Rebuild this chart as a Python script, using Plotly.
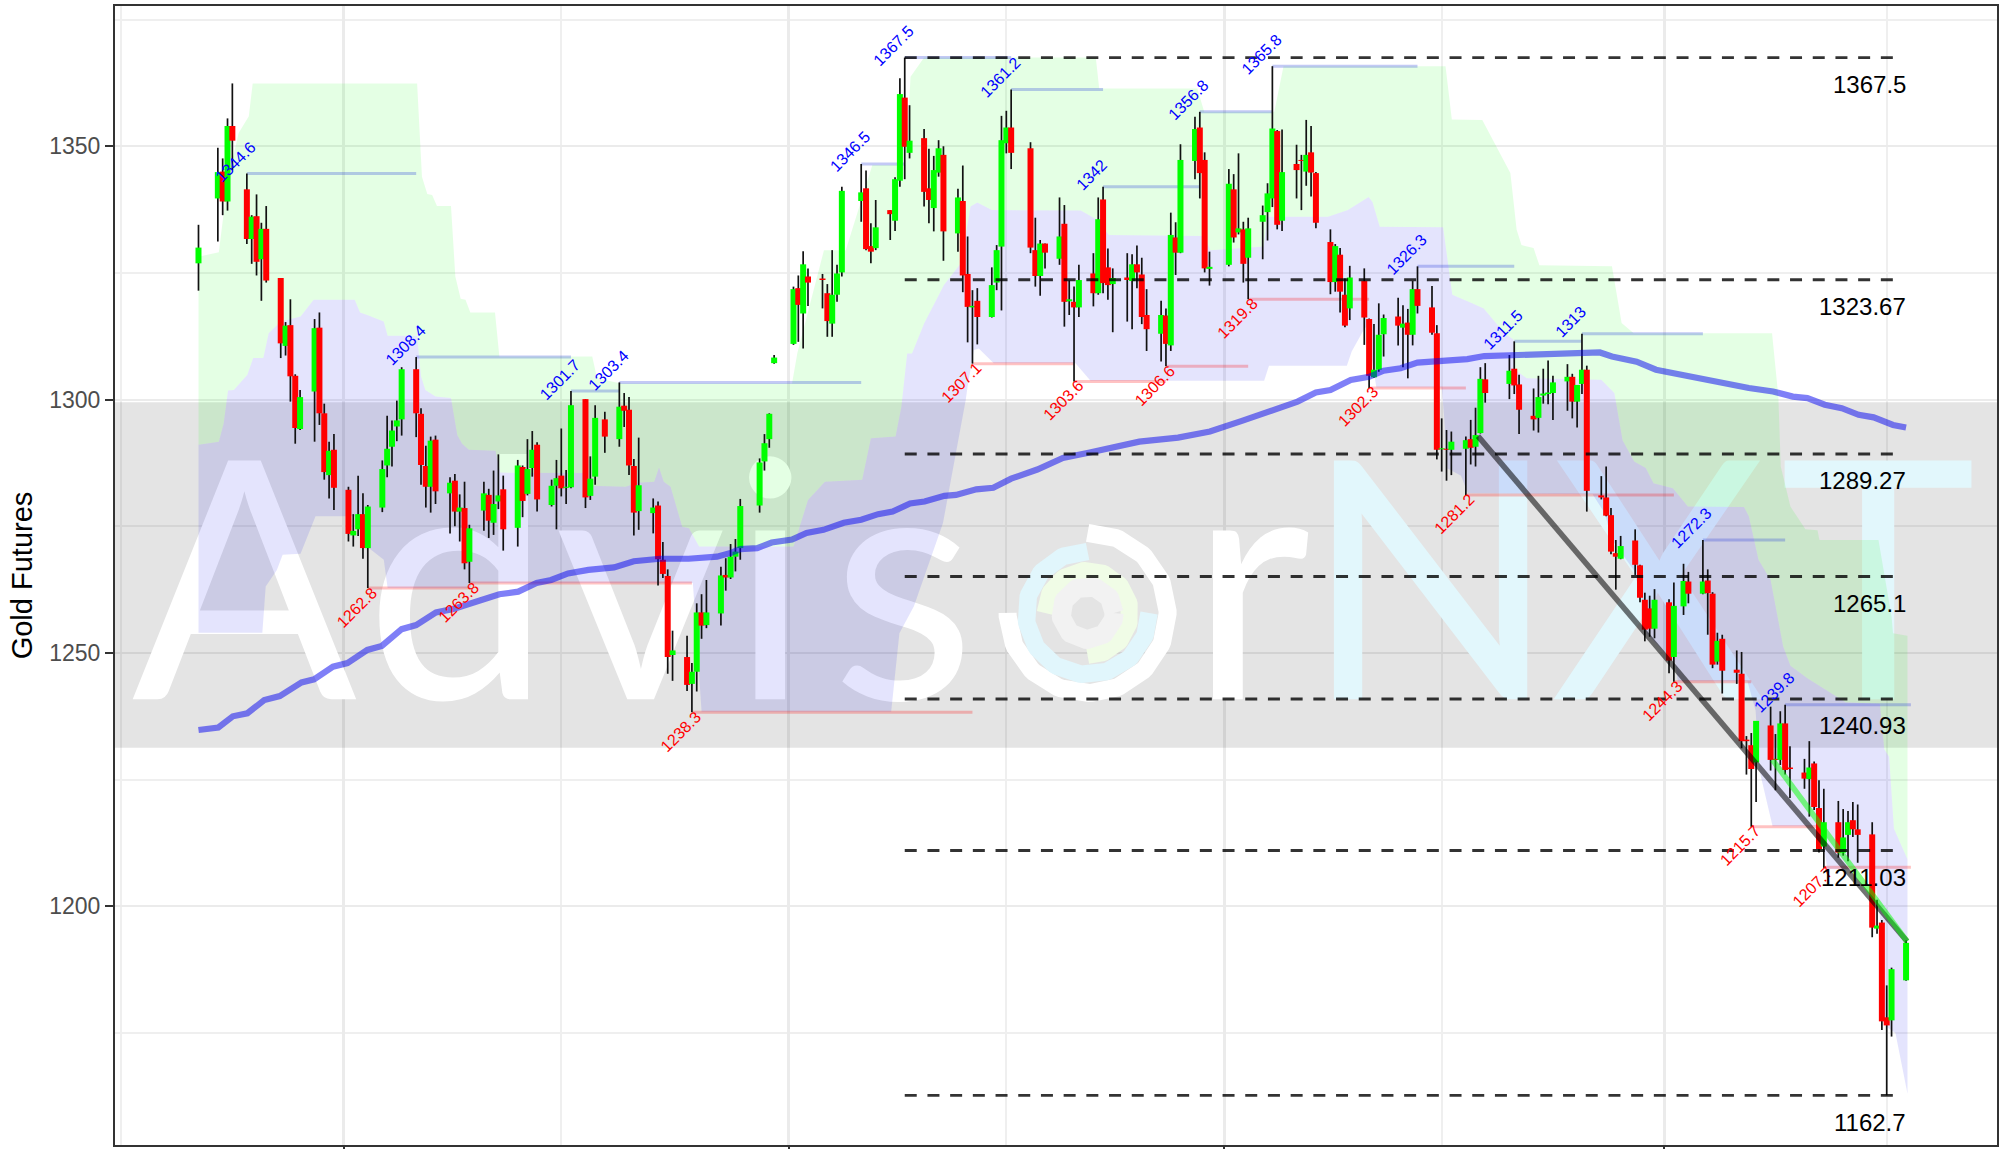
import numpy as np
import pandas as pd
import plotly.graph_objects as go

BASE = pd.Timestamp("2017-09-01")

days = [0,4,5,6,7,10,11,12,13,14,
17,18,19,20,21,24,25,26,27,28,
31,32,33,34,35,38,39,40,41,42,
45,46,47,48,49,52,53,54,55,56,
59,60,61,62,63,66,67,68,69,70,
73,74,75,76,77,80,81,82,84,87,
88,89,90,91,94,95,96,97,98,101,
102,103,104,105,108,109,110,111,112,116,
117,118,119,123,124,125,126,129,130,131,
132,133,137,138,139,140,143,144,145,146,
147,150,151,152,153,154,157,158,159,160,
161,164,165,166,167,168,172,173,174,175,
178,179,180,181,182,185,186,187,188,189,
192,193,194,195,196,199,200,201,202,203,
206,207,208,209,213,214,215,216,217,220,
221,222,223,224,227,228,229,230,231,234,
235,236,237,238,241,242,243,244,245,248,
249,250,251,252,255,256,257,258,259,262,
263,264,265,266,271,272,273,276,277,278,
279,280,283,284,285,286,287,290,291,292,
293,294,297,298,299,300,301,304,305,307,
308,311,312,313,314,315,318,319,320,321,
322,325,326,327,328,329,332,333,334,335,
336,339,340,341,342,343,346,347,348,349,
350,353]

opens = [1326.9,1339.7,1345.0,1339.1,1354.0,1341.5,1331.7,1336.2,1327.7,1333.7,
1324.0,1310.6,1314.7,1304.7,1294.2,1301.6,1314.2,1297.3,1285.1,1290.1,
1282.2,1273.2,1274.4,1277.4,1270.7,1278.7,1287.0,1290.7,1294.7,1296.1,
1306.0,1297.2,1286.9,1282.8,1292.1,1281.5,1284.0,1277.9,1278.6,1268.0,
1278.1,1281.2,1275.7,1279.9,1282.3,1274.7,1286.7,1281.4,1286.5,1291.1,
1279.2,1283.0,1285.0,1282.6,1282.7,1300.1,1281.0,1284.8,1296.1,1292.2,
1298.8,1298.0,1286.9,1278.0,1277.6,1279.1,1268.4,1265.2,1249.6,1249.2,
1243.9,1246.3,1258.0,1255.5,1257.8,1265.4,1264.9,1269.0,1270.7,1279.1,
1287.8,1292.2,1307.2,1311.0,1322.0,1317.0,1324.3,1323.9,1321.0,1315.0,
1320.7,1325.1,1339.2,1341.7,1330.3,1329.9,1337.4,1335.3,1343.2,1359.6,
1348.7,1351.6,1341.7,1337.8,1344.8,1348.3,1332.8,1339.2,1324.8,1318.2,
1319.5,1316.3,1323.1,1330.2,1350.6,1353.7,1349.6,1329.5,1324.4,1330.8,
1327.8,1334.7,1319.4,1319.3,1318.2,1324.9,1321.0,1339.5,1326.1,1322.8,
1324.1,1323.4,1326.7,1324.7,1316.7,1313.0,1316.6,1310.7,1332.0,1329.0,
1347.1,1353.7,1347.3,1325.8,1326.6,1341.5,1333.0,1333.6,1328.0,1335.1,
1337.0,1339.7,1353.0,1335.3,1346.5,1347.3,1345.0,1348.8,1344.7,1331.1,
1323.2,1328.6,1320.7,1318.0,1323.4,1315.9,1304.4,1305.9,1312.9,1316.4,
1314.2,1315.2,1312.8,1321.8,1318.2,1313.1,1290.2,1290.3,1290.1,1290.3,
1292.2,1290.7,1293.4,1304.0,1303.1,1306.1,1303.0,1296.8,1296.4,1300.8,
1301.1,1301.3,1303.6,1304.5,1299.6,1303.1,1305.9,1281.1,1280.7,1277.2,
1269.7,1268.6,1272.2,1267.3,1260.5,1258.8,1254.8,1260.0,1249.2,1259.2,
1264.1,1261.7,1264.3,1261.7,1248.3,1252.8,1246.7,1245.9,1232.9,1231.8,
1228.4,1235.7,1229.1,1228.9,1236.1,1227.4,1226.4,1225.1,1228.2,1219.4,
1211.8,1216.6,1210.6,1214.1,1217.0,1215.2,1214.2,1195.6,1196.8,1178.1,
1177.5,1185.4]

closes = [1330.0,1344.9,1339.1,1354.0,1351.1,1331.7,1336.1,1327.2,1333.7,1323.5,
1311.1,1314.6,1304.6,1294.4,1300.5,1314.1,1297.3,1285.7,1289.9,1282.6,
1273.5,1274.1,1277.4,1270.7,1278.9,1286.3,1290.3,1293.9,1295.9,1306.0,
1297.3,1287.1,1282.8,1291.9,1281.9,1283.6,1277.9,1278.7,1267.7,1274.6,
1281.5,1276.1,1279.4,1281.1,1274.4,1287.0,1280.0,1286.3,1290.1,1280.3,
1283.0,1284.5,1282.5,1282.8,1298.9,1280.7,1284.4,1296.4,1292.7,1298.6,
1297.8,1287.0,1277.7,1283.1,1278.7,1268.5,1265.6,1249.2,1250.5,1243.7,
1246.3,1258.0,1255.4,1258.0,1265.3,1264.9,1269.0,1270.0,1279.0,1287.6,
1291.4,1297.2,1308.3,1321.8,1318.7,1326.7,1323.1,1323.6,1315.5,1320.7,
1324.9,1341.2,1340.9,1329.7,1329.2,1334.0,1336.6,1343.5,1360.3,1349.9,
1351.1,1341.0,1339.4,1345.3,1349.6,1333.2,1339.9,1324.5,1318.3,1318.5,
1316.3,1322.6,1329.5,1351.2,1353.7,1348.7,1330.0,1324.4,1330.8,1329.0,
1332.2,1319.3,1319.8,1318.2,1323.6,1321.0,1335.6,1323.0,1322.6,1324.0,
1323.6,1326.7,1325.1,1316.3,1313.9,1316.7,1311.0,1332.5,1329.0,1347.3,
1353.4,1344.7,1325.9,1326.2,1342.6,1332.0,1333.8,1326.8,1333.8,1336.4,
1340.7,1353.5,1334.5,1344.9,1345.3,1347.1,1348.3,1344.8,1334.9,1323.2,
1330.3,1321.3,1314.6,1324.1,1316.2,1304.7,1305.9,1312.8,1316.1,1314.6,
1315.0,1312.8,1321.8,1318.5,1313.2,1290.1,1290.4,1290.1,1291.7,1292.0,
1290.5,1293.0,1304.1,1301.3,1305.7,1302.8,1298.0,1296.1,1300.5,1301.2,
1301.4,1303.4,1304.5,1299.6,1302.9,1305.9,1282.0,1280.7,1277.1,1270.0,
1269.0,1271.1,1267.4,1260.9,1254.6,1254.8,1260.5,1248.5,1259.3,1264.2,
1261.7,1264.1,1261.8,1247.7,1252.4,1246.5,1246.1,1232.6,1232.6,1227.1,
1236.6,1228.9,1228.9,1236.1,1226.9,1227.1,1225.2,1227.4,1219.6,1211.3,
1216.6,1210.6,1213.6,1216.6,1215.2,1214.1,1195.8,1196.2,1177.3,1176.5,
1187.6,1192.8]

highs = [1334.5,1349.7,1347.6,1355.5,1362.4,1344.6,1336.4,1340.5,1334.9,1338.2,
1324.0,1315.3,1319.8,1305.0,1301.9,1315.9,1317.2,1299.2,1291.7,1293.2,
1282.8,1277.4,1285.0,1281.5,1279.2,1288.0,1296.8,1295.9,1299.8,1306.4,
1308.4,1298.3,1290.9,1292.7,1292.9,1284.7,1285.3,1281.3,1283.8,1275.3,
1283.8,1282.4,1286.0,1289.2,1285.0,1288.1,1287.0,1292.2,1293.8,1291.6,
1284.2,1288.1,1294.3,1286.1,1301.7,1300.1,1288.8,1298.9,1297.6,1303.4,
1301.3,1300.5,1288.3,1292.5,1280.5,1279.9,1271.9,1266.5,1254.4,1253.4,
1248.0,1259.8,1261.6,1264.4,1267.0,1268.7,1271.5,1272.5,1280.4,1288.4,
1293.2,1297.3,1308.8,1322.3,1324.5,1329.3,1325.9,1324.8,1322.8,1329.5,
1326.6,1342.0,1346.5,1345.2,1334.8,1339.4,1337.4,1343.9,1363.4,1367.5,
1358.1,1353.4,1349.5,1348.1,1351.2,1350.0,1341.6,1346.2,1332.2,1321.6,
1322.0,1326.1,1330.5,1356.0,1357.0,1361.2,1350.8,1335.9,1331.5,1330.8,
1339.9,1338.4,1323.5,1322.3,1326.6,1328.9,1339.9,1342.0,1329.8,1325.9,
1328.9,1328.7,1330.4,1328.0,1321.8,1319.5,1318.0,1336.9,1335.0,1350.4,
1355.8,1356.8,1348.8,1329.2,1345.5,1344.5,1348.6,1335.1,1335.9,1338.3,
1342.7,1365.8,1353.2,1353.3,1350.3,1348.3,1355.2,1354.0,1344.9,1333.6,
1330.7,1329.9,1323.9,1326.4,1325.9,1316.0,1314.9,1319.0,1316.8,1320.1,
1318.6,1317.9,1323.4,1326.3,1322.4,1314.7,1296.3,1294.0,1293.7,1292.7,
1296.0,1298.4,1306.4,1307.2,1308.8,1311.5,1304.9,1302.2,1304.7,1306.1,
1307.7,1304.7,1307.0,1305.1,1302.9,1313.0,1306.7,1284.9,1286.8,1278.6,
1272.3,1273.1,1274.4,1267.4,1261.9,1261.3,1262.6,1260.6,1263.9,1267.6,
1266.0,1272.3,1266.5,1262.0,1254.0,1253.6,1250.5,1250.2,1233.6,1234.2,
1236.6,1239.4,1234.0,1238.5,1239.8,1231.6,1229.1,1232.6,1228.6,1224.9,
1223.2,1220.8,1219.2,1218.8,1220.6,1220.1,1216.6,1201.3,1197.3,1184.4,
1187.9,1193.3]

lows = [1321.5,1331.2,1336.4,1337.3,1345.3,1330.7,1326.8,1324.5,1319.5,1323.1,
1308.2,1308.7,1299.6,1291.3,1294.0,1291.7,1295.0,1284.2,1280.5,1278.2,
1272.0,1271.0,1273.1,1268.6,1262.8,1277.8,1284.7,1286.8,1291.8,1292.9,
1292.6,1283.2,1278.7,1277.7,1279.4,1273.6,1275.0,1272.0,1266.5,1263.8,
1274.1,1272.7,1273.3,1278.4,1270.2,1271.0,1276.8,1281.1,1284.8,1277.9,
1278.9,1274.4,1280.9,1279.4,1282.5,1278.6,1280.2,1283.2,1289.5,1290.7,
1294.6,1285.1,1273.2,1274.3,1273.6,1263.3,1264.8,1245.9,1244.5,1242.5,
1238.3,1242.4,1252.8,1254.9,1255.4,1262.3,1264.6,1266.1,1268.4,1277.7,
1286.0,1290.5,1307.1,1310.8,1311.4,1310.1,1318.5,1318.0,1312.4,1312.4,
1319.3,1324.3,1335.1,1329.5,1326.9,1329.5,1331.5,1333.3,1342.0,1343.5,
1347.6,1338.1,1334.8,1333.2,1344.0,1327.4,1329.2,1321.2,1311.3,1307.1,
1310.9,1316.2,1321.6,1317.6,1348.6,1345.5,1328.9,1322.3,1320.5,1325.9,
1326.6,1314.4,1316.7,1303.6,1316.3,1318.4,1320.7,1321.0,1319.7,1313.3,
1315.4,1313.9,1322.0,1314.9,1309.6,1307.5,1306.6,1309.6,1324.6,1328.9,
1343.5,1339.7,1325.1,1322.5,1326.3,1331.0,1332.6,1323.1,1319.8,1327.7,
1331.4,1338.0,1333.6,1333.3,1339.7,1337.4,1342.2,1340.1,1333.8,1320.8,
1321.3,1317.2,1314.3,1315.7,1310.8,1302.3,1304.3,1305.5,1308.5,1310.7,
1306.4,1304.2,1310.7,1317.0,1312.8,1288.2,1285.8,1284.0,1285.1,1281.2,
1287.2,1286.8,1293.3,1299.4,1300.1,1301.1,1293.2,1293.9,1293.5,1299.2,
1299.1,1296.0,1297.8,1296.3,1294.5,1301.1,1277.9,1280.3,1277.0,1269.5,
1262.5,1268.5,1265.4,1260.0,1252.3,1253.2,1252.9,1246.0,1244.3,1257.5,
1259.8,1261.6,1253.6,1247.0,1247.7,1242.0,1243.9,1231.2,1226.0,1215.7,
1220.6,1226.8,1222.9,1227.9,1226.0,1221.4,1223.2,1217.7,1219.0,1210.6,
1207.6,1209.6,1210.0,1208.9,1213.7,1208.6,1193.9,1194.6,1175.6,1162.7,
1174.3,1185.3]

# ribbon boundaries
upper_days = [0,4.2,5.2,5.9,8.3,10.4,11.2,45.2,46.2,47.3,48.3,49.3,52.2,53.1,54.2,55.2,56.2,61.3,62.2,81.4,82.4,87.3,
122.7,123.8,129.3,133.8,139.3,146.2,147.2,150,185.5,186.2,206.5,207.9,222.4,224.3,257.8,259.1,265.4,271.2,272.5,273.5,
276,277.2,292.2,294.2,296.7,325.3,326.6,327.1,329.1,332.2,334.7,335.1,347.3,350,350.3,353.3]
upper_vals = [1328.2,1329.1,1336.8,1342.7,1352.6,1355.9,1362.4,1362.4,1344,1340.6,1340.4,1338.2,1338.2,1324.3,1319.9,1319.7,1317.2,1317.2,1308.5,1308.5,1304.2,1303.2,
1303.2,1309.2,1329.5,1329.5,1346.3,1346.3,1363.7,1367.5,1367.5,1361.4,1361.4,1356.8,1356.8,1365.8,1365.8,1355.3,1355.2,1344.7,1333.5,1330.5,
1329.9,1326.5,1326.3,1315.1,1313.1,1313.1,1300.6,1286.8,1278.9,1274.4,1274.2,1272.3,1272.3,1257.2,1253.9,1253.4]

mid_days = [0,4.2,5.2,6.1,7.3,10.1,11.3,13.4,14.5,17,21.1,23.8,32.3,33.4,34.9,38.3,39.1,45.2,46,46.9,49,52.2,53.5,54.5,55.9,61.4,62.4,79.9,81,88.3,90.7,94.2,95.2,96.2,97.6,100,101.4,103.5,
122.1,123,126,129.5,137.2,139,144.1,145.3,146.5,147.5,150,154.1,157.6,159.6,161,164,182.4,185.8,188.2,207.9,209.2,220.2,221,233.5,237.6,241.9,242.7,244.2,257.3,259.2,263.3,265.7,270,271.9,272.2,274.6,290,
292.7,294.4,296.8,299.2,300.8,304.8,307.9,319.5,320.5,322.5,325,327.6,329.1,332.6,340.5,347.6,348.5,349.5,350.5,353.3]
mid_vals = [1291.1,1291.7,1295.3,1301.8,1301.9,1304.9,1308.2,1308.2,1313.1,1315.4,1316.4,1319.7,1319.7,1317.2,1316.7,1315.4,1312.6,1312.6,1304.6,1301.9,1300.6,1300.3,1293,1291.3,1290.1,1289.9,1285.6,1285.5,1283,1282.8,1283.6,1283.8,1286.6,1283.8,1282.8,1274.9,1274.6,1271,
1271,1271,1280.2,1283.8,1284.2,1292.4,1292.7,1298.6,1309.1,1309.1,1315,1322.6,1326.9,1338.1,1338.9,1337.4,1337.3,1335.5,1332.5,1332.3,1329.5,1330.2,1336.1,1336.1,1337.4,1340,1339,1334.1,1334,1320.7,1319,1318,1313.1,1311.8,1305.9,1304.2,1303.9,
1301.3,1292,1287.8,1286.5,1283.5,1282.5,1278.9,1278.8,1277,1268.4,1264.4,1251.3,1247.5,1245,1240.3,1240,1231,1229.5,1215.3,1209.3]

lower_days = [0,13.2,13.9,16.2,17.4,21.1,24.2,32.5,35.2,38.3,39.1,56.2,56.5,102.2,104,143.2,144.9,147.9,153.9,158.6,159,160.3,161.3,164.4,181.3,184.4,220.3,221.3,237.4,238.4,240.9,241.5,243.5,
257,257.5,258.2,261,262.4,288.2,290.7,292.2,296.7,298.8,299.3,305.3,305.8,320.2,321.9,322.6,325.4,335.5,336.7,346.3,347.6,348.5,349.3,350.8,353.3]
lower_vals = [1254,1254,1263.1,1266.4,1269.4,1269.6,1277,1277,1270.7,1268.4,1262.8,1262.8,1263.8,1263.8,1238.4,1238.4,1253.9,1259.2,1275.6,1299.9,1302.6,1309.8,1310.1,1307.2,1307.2,1303.7,1303.7,1306.7,1306.7,1309.5,1313.8,1314.5,1302.4,
1302.4,1296.7,1286.4,1285,1281.5,1281.3,1277.6,1272.3,1266.4,1259.2,1253.9,1248,1244.4,1244.4,1238.6,1227.2,1215.8,1215.8,1207.3,1207.3,1198,1177.3,1176,1175,1163]

# moving average
ma_days = [0,4.1,7.1,10.1,13.6,16.8,21.3,23.9,27.8,30.8,34.9,37.9,42,45,49.1,52.7,58,62.2,66.1,69.9,72.9,76.4,80.6,85.9,90,95.4,101.3,107.2,110.2,112,115.5,118.5,122.7,125.7,129.2,133.4,137,140.5,143.5,147.1,150.1,154.2,156.6,160.8,164.3,168,173.4,178.7,184,189.3,194.5,202.5,209.1,215.7,223,227.2,231,234,238.2,242,245,248.5,252,256,262.3,265.8,271.3,289.7,292.2,297.3,301.3,306.4,311.4,315.4,320.5,325.5,329.6,332.6,336.2,339.7,343.2,346.3,350.3,353]
ma_vals = [1234.8,1235.3,1237.5,1238.1,1240.7,1241.5,1244.2,1244.8,1247.3,1248,1250.6,1251.4,1254.7,1255.5,1258,1258.7,1260.3,1261.6,1262.1,1263.8,1264.4,1265.7,1266.4,1266.9,1268.1,1268.6,1268.6,1269,1269.8,1270.5,1270.7,1271.8,1272.4,1273.7,1274.3,1275.7,1276.3,1277.4,1277.9,1279.5,1279.9,1281,1281.2,1282.3,1282.6,1284.4,1286.2,1288.5,1289.5,1290.7,1291.7,1292.5,1293.7,1295.8,1298.3,1299.6,1301.4,1301.9,1303.9,1304.5,1305.7,1306.2,1307.3,1307.5,1308,1308.6,1308.8,1309.3,1308.5,1307.5,1305.9,1304.9,1304.2,1303.2,1302.3,1301.6,1300.6,1300.3,1299,1298.3,1297,1296.5,1295,1294.5]

# pivot highs / lows
pivot_high_days = [10,45,77,87,137,146,168,187,207,222,252,272,286,311,328]
pivot_high_vals = [1344.6,1308.4,1301.7,1303.4,1346.5,1367.5,1361.2,1342,1356.8,1365.8,1326.3,1311.5,1313,1272.3,1239.8]
pivot_low_days = [35,56,102,160,181,200,217,242,262,305,321,336]
pivot_low_vals = [1262.8,1263.8,1238.3,1307.1,1303.6,1306.6,1319.8,1302.3,1281.2,1244.3,1215.7,1207.7]
pivot_end_day = 354

# retracement levels
level_vals = [1367.5,1323.67,1289.27,1265.1,1240.93,1211.03,1162.7]
level_start, level_end, level_label_day = 146, 351.5, 353.3

# trend lines
grey_trend_days, grey_trend_vals = [264.5,353.2], [1292.8,1193.1]
green_trend_days, green_trend_vals = [325.4,353.2], [1228.9,1193.1]

# watermark band and letters
band_vals = [1299.5,1231.3]
wm_letters = ["A","d","v","i","s","r","N","X","T"]
wm_days = [9.5,53.7,91.4,118.2,145.7,217.4,254.7,301.8,347.2]
wm_colors = ["white"]*6 + ["#e2f7fc"]*3
wm_y = 1257.3

x_lo, x_hi = -17.26, 371.8
y_lo, y_hi = 1152.9, 1377.68
major_dates = ["2017-10-01","2018-01-01","2018-04-01","2018-07-01"]
minor_dates = ["2017-08-16","2017-11-15","2018-02-15","2018-05-16","2018-08-16"]


def dt(ds):
    return [(BASE + pd.Timedelta(days=float(d))).isoformat() for d in ds]


fig = go.Figure()
FONT = "Liberation Sans, Helvetica, Arial, sans-serif"

# grey band
fig.add_trace(go.Scatter(x=dt([x_lo, x_hi, x_hi, x_lo]),
                         y=[band_vals[0], band_vals[0], band_vals[1], band_vals[1]],
                         fill="toself", fillcolor="rgba(0,0,0,0.105)", mode="lines",
                         line=dict(width=0), hoverinfo="skip"))

# watermark letters
for ch, d, col in zip(wm_letters, wm_days, wm_colors):
    fig.add_trace(go.Scatter(x=dt([d]), y=[wm_y], mode="text", text=[ch],
                             textposition="middle center", hoverinfo="skip",
                             textfont=dict(family="Lato", size=333, color=col)))

# watermark target rings
ring_c_day, ring_c_val = 183.8, 1257.9
rings = [(80, 90, -180, "white", 18), (61.5, 90, 360, "#e1f6fc", 17.5),
         (42.5, 180, -90, "#f0fce6", 17), (26.5, 0, 360, "#f2f2f2", 19)]
for r, a0, a1, col, w in rings:
    t = np.radians(np.linspace(a0, a1, 120))
    fig.add_trace(go.Scatter(x=dt(ring_c_day + r / 4.838 * np.cos(t)),
                             y=ring_c_val + r / 5.068 * np.sin(t), mode="lines",
                             line=dict(color=col, width=w), hoverinfo="skip"))

# ribbons
fig.add_trace(go.Scatter(x=dt(upper_days + mid_days[::-1]), y=upper_vals + mid_vals[::-1],
                         fill="toself", fillcolor="rgba(0,255,0,0.105)", mode="lines",
                         line=dict(width=0), hoverinfo="skip"))
fig.add_trace(go.Scatter(x=dt(mid_days + lower_days[::-1]), y=mid_vals + lower_vals[::-1],
                         fill="toself", fillcolor="rgba(0,0,235,0.105)", mode="lines",
                         line=dict(width=0), hoverinfo="skip"))

# pivot level segments
def seg_xy(ds, vs):
    ends = ds[1:] + [pivot_end_day]
    xs, ys = [], []
    for a, b, v in zip(ds, ends, vs):
        xs += dt([a, b]) + [None]
        ys += [v, v, None]
    return xs, ys

hx, hy = seg_xy(pivot_high_days, pivot_high_vals)
lx, ly = seg_xy(pivot_low_days, pivot_low_vals)
fig.add_trace(go.Scatter(x=hx, y=hy, mode="lines", line=dict(color="rgba(40,60,220,0.28)", width=3), hoverinfo="skip"))
fig.add_trace(go.Scatter(x=lx, y=ly, mode="lines", line=dict(color="rgba(255,0,0,0.24)", width=3), hoverinfo="skip"))

# wicks
wx, wy = [], []
for d, h, l in zip(days, highs, lows):
    wx += dt([d, d]) + [None]
    wy += [l, h, None]
fig.add_trace(go.Scatter(x=wx, y=wy, mode="lines", line=dict(color="#111111", width=1.7), hoverinfo="skip"))

# candle bodies, in runs of one colour so that later candles sit on earlier ones
run_x, run_y, run_col = [], [], None
def flush():
    if run_x:
        fig.add_trace(go.Scatter(x=list(run_x), y=list(run_y), mode="lines", hoverinfo="skip",
                                 line=dict(color=run_col, width=6)))
for d, o, c in zip(days, opens, closes):
    col = "#00ff00" if c >= o else "#ff0000"
    if col != run_col:
        flush()
        run_x, run_y, run_col = [], [], col
    run_x += dt([d, d]) + [None]
    run_y += [o, c, None]
flush()

# moving average and trend lines
fig.add_trace(go.Scatter(x=dt(ma_days), y=ma_vals, mode="lines",
                         line=dict(color="rgba(0,0,240,0.5)", width=6.2), hoverinfo="skip"))
fig.add_trace(go.Scatter(x=dt(grey_trend_days), y=grey_trend_vals, mode="lines",
                         line=dict(color="rgba(0,0,0,0.55)", width=5.6), hoverinfo="skip"))
fig.add_trace(go.Scatter(x=dt(green_trend_days), y=green_trend_vals, mode="lines",
                         line=dict(color="rgba(0,255,0,0.5)", width=5.6), hoverinfo="skip"))

# dashed levels
for v in level_vals:
    fig.add_trace(go.Scatter(x=dt([level_start, level_end]), y=[v, v], mode="lines", hoverinfo="skip",
                             line=dict(color="rgba(0,0,0,0.8)", width=2.9, dash="12px,10.7px")))

annotations = []
for d, v in zip(pivot_high_days, pivot_high_vals):
    annotations.append(dict(x=dt([d])[0], y=v, text=f"{v:g}", showarrow=False, textangle=-45,
                            xshift=-11, yshift=12, font=dict(family=FONT, size=16, color="#0000ff")))
for d, v in zip(pivot_low_days, pivot_low_vals):
    annotations.append(dict(x=dt([d])[0], y=v, text=f"{v:g}", showarrow=False, textangle=-45,
                            xshift=-11, yshift=-19, font=dict(family=FONT, size=16, color="#ff0000")))
for v in level_vals:
    annotations.append(dict(x=dt([level_label_day])[0], y=v, text=f"{v:g}", showarrow=False, xanchor="right",
                            yshift=-27, font=dict(family=FONT, size=24, color="black")))

fig.update_layout(
    width=2007, height=1149, showlegend=False, autosize=False,
    margin=dict(l=114.5, r=10, t=6, b=0),
    paper_bgcolor="white", plot_bgcolor="white",
    annotations=annotations,
    xaxis=dict(type="date", range=dt([x_lo, x_hi]), tickmode="array", tickvals=major_dates,
               showticklabels=False, ticks="outside", ticklen=4, tickwidth=2, tickcolor="#333333",
               showgrid=True, gridcolor="#ebebeb", gridwidth=3,
               minor=dict(tickmode="array", tickvals=minor_dates, showgrid=True, gridcolor="#efefef", gridwidth=2, ticks=""),
               showline=True, linecolor="#333333", linewidth=2, mirror=True, zeroline=False),
    yaxis=dict(range=[y_lo, y_hi], tickmode="array", tickvals=[1200,1250,1300,1350],
               ticktext=["1200","1250","1300","1350"], tickfont=dict(family=FONT, size=23, color="#4d4d4d"),
               ticks="outside", ticklen=8, tickwidth=2, tickcolor="#333333",
               showgrid=True, gridcolor="#ebebeb", gridwidth=2.4,
               minor=dict(tickmode="array", tickvals=[1175,1225,1275,1325,1375], showgrid=True, gridcolor="#efefef", gridwidth=1.6, ticks=""),
               showline=True, linecolor="#333333", linewidth=2, mirror=True, zeroline=False,
               title=dict(text="Gold Futures", font=dict(family=FONT, size=29, color="black"), standoff=8)),
)

fig.write_html("out.html", config=dict(displayModeBar=False),
               post_script="document.body.style.margin='0';document.documentElement.style.overflow='hidden';")
